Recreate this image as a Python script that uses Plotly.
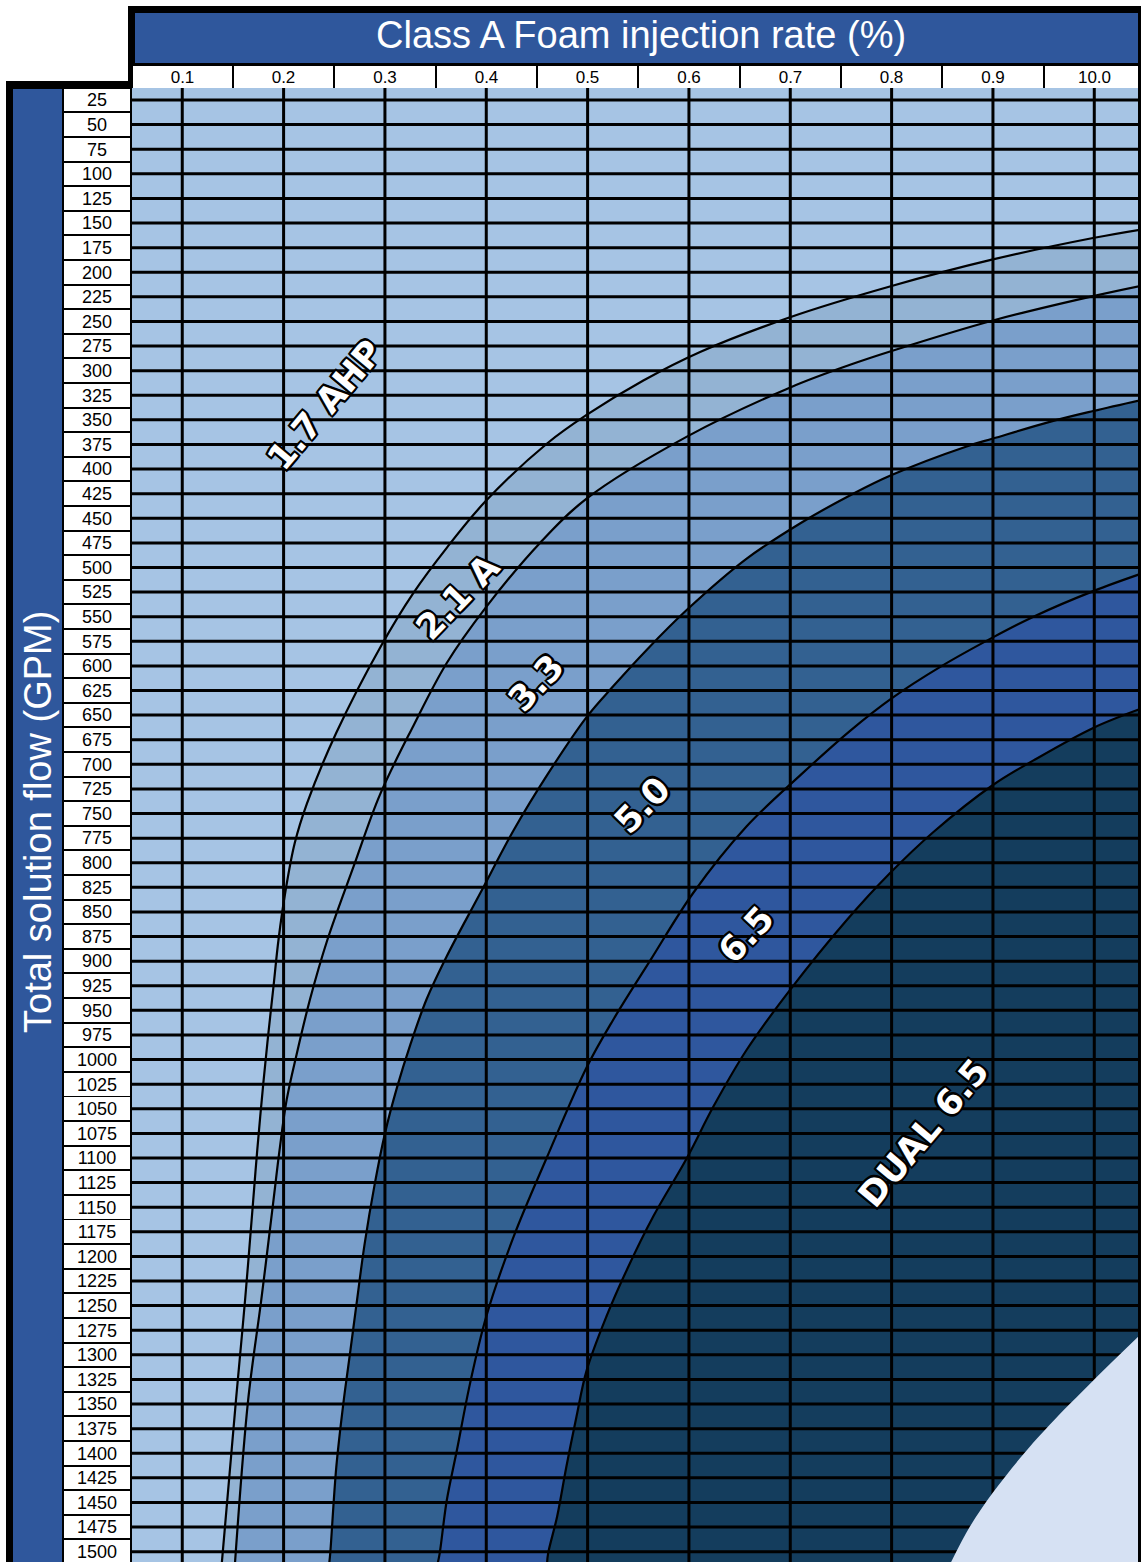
import plotly.graph_objects as go

# ---------------- data ----------------
pct_ticks = [0.1, 0.2, 0.3, 0.4, 0.5, 0.6, 0.7, 0.8, 0.9, 1.0]
pct_labels = ["0.1", "0.2", "0.3", "0.4", "0.5", "0.6", "0.7", "0.8", "0.9", "10.0"]
gpm_ticks = [25, 50, 75, 100, 125, 150, 175, 200, 225, 250, 275, 300, 325, 350, 375,
             400, 425, 450, 475, 500, 525, 550, 575, 600, 625, 650, 675, 700, 725, 750,
             775, 800, 825, 850, 875, 900, 925, 950, 975, 1000, 1025, 1050, 1075, 1100,
             1125, 1150, 1175, 1200, 1225, 1250, 1275, 1300, 1325, 1350, 1375, 1400,
             1425, 1450, 1475, 1500]
gpm_labels = [str(v) for v in gpm_ticks]

# boundary curves (injection % , total flow gpm)
c17_pct = [1.05, 1.0, 0.9, 0.8, 0.699, 0.611, 0.555, 0.499, 0.46, 0.399, 0.361, 0.328,
           0.296, 0.252, 0.223, 0.211, 0.202, 0.195, 0.19, 0.185, 0.18, 0.174, 0.17,
           0.162, 0.153, 0.139]
c17_gpm = [156, 165, 187, 214, 246, 281, 310, 345, 374, 433, 480, 526, 580, 668, 740,
           780, 828, 878, 926, 973, 1024, 1092, 1143, 1244, 1346, 1512]

c21_pct = [1.05, 1.0, 0.9, 0.8, 0.759, 0.7, 0.598, 0.499, 0.453, 0.4, 0.361, 0.328,
           0.295, 0.269, 0.243, 0.226, 0.213, 0.203, 0.196, 0.19, 0.178, 0.165, 0.152]
c21_gpm = [213, 224, 249, 280, 294, 317, 367, 430, 475, 540, 597, 661, 731, 804, 879,
           939, 994, 1041, 1092, 1143, 1244, 1346, 1512]

c33_pct = [1.05, 0.999, 0.956, 0.9, 0.874, 0.8, 0.762, 0.71, 0.657, 0.598, 0.558, 0.525,
           0.499, 0.46, 0.427, 0.394, 0.361, 0.341, 0.325, 0.312, 0.3, 0.29, 0.28, 0.272,
           0.266, 0.259, 0.252, 0.246, 0.245]
c33_gpm = [329, 341, 352, 369, 377, 406, 425, 455, 491, 543, 584, 621, 652, 711, 767, 831,
           895, 939, 985, 1028, 1075, 1126, 1187, 1248, 1295, 1349, 1414, 1502, 1512]

c50_pct = [1.05, 0.999, 0.94, 0.9, 0.848, 0.8, 0.759, 0.71, 0.657, 0.604, 0.562, 0.525,
           0.499, 0.46, 0.427, 0.4, 0.384, 0.371, 0.361, 0.354, 0.352]
c50_gpm = [505, 524, 550, 571, 601, 633, 666, 711, 763, 831, 899, 960, 1008, 1099, 1180,
           1261, 1329, 1397, 1448, 1502, 1512]

c65_pct = [1.05, 0.999, 0.94, 0.9, 0.841, 0.798, 0.756, 0.7, 0.657, 0.624, 0.598, 0.565,
           0.539, 0.519, 0.499, 0.489, 0.479, 0.47, 0.461, 0.46]
c65_gpm = [642, 663, 696, 721, 769, 811, 858, 929, 990, 1048, 1100, 1159, 1213, 1260,
           1316, 1363, 1414, 1464, 1502, 1512]

cd65_pct = [1.05, 0.999, 0.956, 0.93, 0.9, 0.877, 0.858]
cd65_gpm = [1275, 1326, 1371, 1401, 1440, 1475, 1512]

region_labels = ["1.7 AHP", "2.1 A", "3.3", "5.0", "6.5", "DUAL 6.5"]
label_pct = [0.241, 0.372, 0.449, 0.554, 0.656, 0.832]
label_gpm = [335, 530, 617, 741, 873, 1075]
label_angle = [-50, -46, -47, -46, -47, -50]

# ---------------- styling / layout constants ----------------
W, H = 1141, 1562
X_RANGE = [0.0504, 1.0461]
Y_RANGE = [1510.5, 12.8]
X_FAR, Y_FAR = 1.3, 1800
X_NEAR, Y_NEAR = -0.2, -200

C_BG = "#A6C4E4"
band_colors = ["#93B3D3", "#7A9FCB", "#336191", "#2F579E", "#143D5D"]
C_LIGHT = "#D6E1F3"
C_BLUE = "#2F579C"
SPLINE = dict(shape="spline", smoothing=1.0)


def pxx(x):
    return x / W


def pxy(y):
    return 1 - y / H


fig = go.Figure()

# background (1.7 AHP region)
fig.add_trace(go.Scatter(
    x=[X_NEAR, X_FAR, X_FAR, X_NEAR], y=[Y_NEAR, Y_NEAR, Y_FAR, Y_FAR],
    fill="toself", fillcolor=C_BG, mode="none", hoverinfo="skip"))

curves = [(c17_pct, c17_gpm), (c21_pct, c21_gpm), (c33_pct, c33_gpm),
          (c50_pct, c50_gpm), (c65_pct, c65_gpm)]


def add_band(p, g, col):
    # invisible baseline beyond the bottom of the chart, then fill the curve down to it
    fig.add_trace(go.Scatter(x=[p[0], p[-1]], y=[Y_FAR, Y_FAR], mode="lines",
                             line=dict(width=0), hoverinfo="skip"))
    fig.add_trace(go.Scatter(x=p, y=g, mode="lines", fill="tonexty", fillcolor=col,
                             line=dict(width=0, color=col, **SPLINE), hoverinfo="skip"))


for (p, g), col in zip(curves, band_colors):
    add_band(p, g, col)

# grid lines
gx, gy = [], []
for g in gpm_ticks:
    gx += [X_NEAR, X_FAR, None]
    gy += [g, g, None]
for p in pct_ticks:
    gx += [p, p, None]
    gy += [Y_NEAR, Y_FAR, None]
fig.add_trace(go.Scatter(x=gx, y=gy, mode="lines",
                         line=dict(color="black", width=3), hoverinfo="skip"))

# dual light region (drawn over the grid)
add_band(cd65_pct, cd65_gpm, C_LIGHT)

# boundary curves
for p, g in curves:
    fig.add_trace(go.Scatter(x=p, y=g, mode="lines",
                             line=dict(color="black", width=2.2, **SPLINE),
                             hoverinfo="skip"))

# row label cells
fig.add_trace(go.Bar(
    y=gpm_ticks, x=[1] * len(gpm_ticks), orientation="h", width=23,
    xaxis="x2", yaxis="y", marker=dict(color="white", line=dict(width=0)),
    text=gpm_labels, textposition="inside", insidetextanchor="middle",
    textangle=0, constraintext="none",
    textfont=dict(family="Liberation Sans, Arial", size=18, color="black"),
    hoverinfo="skip"))

# column label cells
fig.add_trace(go.Bar(
    x=pct_ticks, y=[1] * len(pct_ticks), width=0.098,
    xaxis="x", yaxis="y3", marker=dict(color="white", line=dict(width=0)),
    text=pct_labels, textposition="inside", insidetextanchor="middle",
    textangle=0, constraintext="none",
    textfont=dict(family="Liberation Sans, Arial", size=17, color="black"),
    hoverinfo="skip"))

shapes = [
    dict(type="rect", xref="paper", yref="paper", layer="below",
         x0=pxx(128), x1=pxx(W), y0=pxy(90), y1=pxy(6),
         fillcolor="black", line=dict(width=0)),
    dict(type="rect", xref="paper", yref="paper", layer="below",
         x0=pxx(6), x1=pxx(134), y0=pxy(H), y1=pxy(81),
         fillcolor="black", line=dict(width=0)),
    dict(type="rect", xref="paper", yref="paper", layer="below",
         x0=pxx(135), x1=pxx(W), y0=pxy(63), y1=pxy(13),
         fillcolor=C_BLUE, line=dict(width=0)),
    dict(type="rect", xref="paper", yref="paper", layer="below",
         x0=pxx(13), x1=pxx(62), y0=pxy(H), y1=pxy(89),
         fillcolor=C_BLUE, line=dict(width=0)),
    dict(type="rect", xref="paper", yref="paper", layer="above",
         x0=pxx(1138), x1=pxx(W), y0=pxy(H), y1=pxy(6),
         fillcolor="black", line=dict(width=0)),
]

outline = ("-2px -2px 0 #000, 2px -2px 0 #000, -2px 2px 0 #000, 2px 2px 0 #000, "
           "0 2px 0 #000, 0 -2px 0 #000, 2px 0 0 #000, -2px 0 0 #000")

annotations = [
    dict(text="Class A Foam injection rate (%)", xref="paper", yref="paper",
         x=pxx(641), y=pxy(35), showarrow=False, xanchor="center", yanchor="middle",
         font=dict(family="Liberation Sans, Arial", size=38, color="white")),
    dict(text="Total solution flow (GPM)", xref="paper", yref="paper",
         x=pxx(38), y=pxy(822), showarrow=False, textangle=-90,
         xanchor="center", yanchor="middle",
         font=dict(family="Liberation Sans, Arial", size=38, color="white")),
]
for t, xp, yg, ang in zip(region_labels, label_pct, label_gpm, label_angle):
    annotations.append(dict(
        text=t, x=xp, y=yg, xref="x", yref="y", showarrow=False, textangle=ang,
        xanchor="center", yanchor="middle",
        font=dict(family="DejaVu Sans", size=35, color="white", weight="bold",
                  shadow=outline)))

fig.update_layout(
    width=W, height=H, margin=dict(l=0, r=0, t=0, b=0, pad=0),
    paper_bgcolor="white", plot_bgcolor="black", showlegend=False,
    bargap=0,
    xaxis=dict(domain=[132 / W, 1], range=X_RANGE, visible=False, fixedrange=True),
    yaxis=dict(domain=[0, 1 - 88 / H], range=Y_RANGE, visible=False, fixedrange=True),
    xaxis2=dict(domain=[64 / W, 130 / W], range=[0, 1], anchor="y", visible=False),
    yaxis3=dict(domain=[1 - 88 / H, 1 - 66 / H], range=[0, 1], anchor="x", visible=False),
    shapes=shapes, annotations=annotations,
)

fig.write_html("out.html", config={"displayModeBar": False},
               post_script="document.body.style.margin='0';document.body.style.overflow='hidden';")
